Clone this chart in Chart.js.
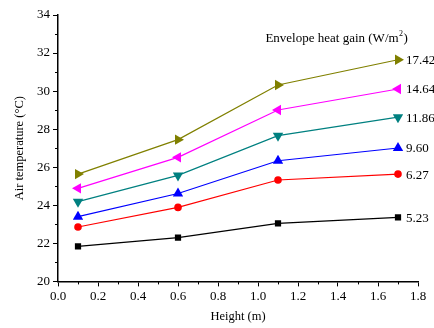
<!DOCTYPE html>
<html>
<head>
<meta charset="utf-8">
<script src="https://cdn.jsdelivr.net/npm/chart.js@4"></script>
<style>
html,body{margin:0;padding:0;background:#fff;}
#wrap{width:434px;height:328px;}
</style>
</head>
<body>
<div id="wrap"><canvas id="c" width="434" height="328"></canvas></div>
<script>
const heights = [0.1, 0.6, 1.1, 1.7];
const gainLabels = ['5.23', '6.27', '9.60', '11.86', '14.64', '17.42'];
const s523  = [21.84, 22.30, 23.05, 23.36];
const s627  = [22.86, 23.89, 25.33, 25.64];
const s960  = [23.40, 24.62, 26.34, 27.01];
const s1186 = [24.19, 25.57, 27.66, 28.63];
const s1464 = [24.89, 26.52, 29.01, 30.11];
const s1742 = [25.64, 27.45, 30.32, 31.65];
const xTicks = [0.0, 0.2, 0.4, 0.6, 0.8, 1.0, 1.2, 1.4, 1.6, 1.8];
const yTicks = [20, 22, 24, 26, 28, 30, 32, 34];

const seriesVals = [s523, s627, s960, s1186, s1464, s1742];
const colors = ['#000000', '#ff0000', '#0000ff', '#008080', '#ff00ff', '#808000'];
const styles = ['rect', 'circle', 'triangle', 'triangle', 'triangle', 'triangle'];
const rots = [0, 0, 0, 180, -90, 90];
const radii = [4.4, 3.8, 6, 6, 6, 6];

const datasets = seriesVals.map((vals, i) => ({
  label: gainLabels[i],
  data: vals.map((v, j) => ({x: heights[j], y: v})),
  borderColor: colors[i],
  backgroundColor: colors[i],
  borderWidth: 1.2,
  pointStyle: styles[i],
  pointRotation: rots[i],
  pointRadius: radii[i],
  pointBorderWidth: 0,
  tension: 0
}));

const FONT = '"Liberation Serif", "Times New Roman", serif';

const extras = {
  id: 'extras',
  afterDraw(chart) {
    const ctx = chart.ctx;
    const xs = chart.scales.x, ys = chart.scales.y;
    ctx.save();
    ctx.strokeStyle = '#000';
    ctx.lineWidth = 1;
    for (let i = 0; i < xTicks.length - 1; i++) {
      const v = (xTicks[i] + xTicks[i + 1]) / 2;
      const px = Math.round(xs.getPixelForValue(v)) + 0.5;
      ctx.beginPath(); ctx.moveTo(px, ys.bottom); ctx.lineTo(px, ys.bottom + 3); ctx.stroke();
    }
    for (let i = 0; i < yTicks.length - 1; i++) {
      const v = (yTicks[i] + yTicks[i + 1]) / 2;
      const py = Math.round(ys.getPixelForValue(v)) + 0.5;
      ctx.beginPath(); ctx.moveTo(xs.left, py); ctx.lineTo(xs.left - 3, py); ctx.stroke();
    }
    ctx.fillStyle = '#000';
    ctx.font = '13px ' + FONT;
    ctx.textBaseline = 'middle';
    ctx.textAlign = 'left';
    chart.data.datasets.forEach((ds, i) => {
      const meta = chart.getDatasetMeta(i);
      const pt = meta.data[meta.data.length - 1];
      ctx.fillText(ds.label, pt.x + 8, pt.y + 1);
    });
    ctx.font = '13px ' + FONT;
    const tx = xs.getPixelForValue(1.037);
    const ty = 39;
    ctx.fillText('Envelope heat gain (W/m', tx, ty);
    const w = ctx.measureText('Envelope heat gain (W/m').width;
    ctx.font = '8px ' + FONT;
    ctx.fillText('2', tx + w + 0.5, ty - 5);
    const w2 = ctx.measureText('2').width;
    ctx.font = '13px ' + FONT;
    ctx.fillText(')', tx + w + w2 + 1, ty);
    ctx.restore();
  }
};

new Chart(document.getElementById('c'), {
  type: 'line',
  data: { datasets },
  options: {
    responsive: false,
    animation: false,
    devicePixelRatio: 1,
    layout: { padding: { top: 15, right: 16, left: 12, bottom: 0 } },
    plugins: { legend: { display: false }, tooltip: { enabled: false } },
    scales: {
      x: {
        type: 'linear',
        min: 0, max: 1.8,
        afterBuildTicks(scale) { scale.ticks = xTicks.map(v => ({value: v})); },
        ticks: {
          color: '#000',
          font: { family: FONT, size: 13 },
          padding: 2,
          maxRotation: 0,
          callback: v => Number(v).toFixed(1)
        },
        grid: { drawOnChartArea: false, drawTicks: true, tickLength: 5, tickColor: '#000', tickWidth: 1 },
        border: { display: true, color: '#000', width: 1.5 },
        title: { display: true, text: 'Height (m)', color: '#000', font: { family: FONT, size: 12.5 }, padding: { top: 3, bottom: 4 } }
      },
      y: {
        type: 'linear',
        min: 20, max: 34,
        afterBuildTicks(scale) { scale.ticks = yTicks.map(v => ({value: v})); },
        ticks: {
          color: '#000',
          font: { family: FONT, size: 13 },
          padding: 3,
          callback: v => String(v)
        },
        grid: { drawOnChartArea: false, drawTicks: true, tickLength: 5, tickColor: '#000', tickWidth: 1 },
        border: { display: true, color: '#000', width: 1.5 },
        title: { display: true, text: 'Air temperature (°C)', color: '#000', font: { family: FONT, size: 12.5 }, padding: { top: 0, bottom: 7 } }
      }
    }
  },
  plugins: [extras]
});
</script>
</body>
</html>
